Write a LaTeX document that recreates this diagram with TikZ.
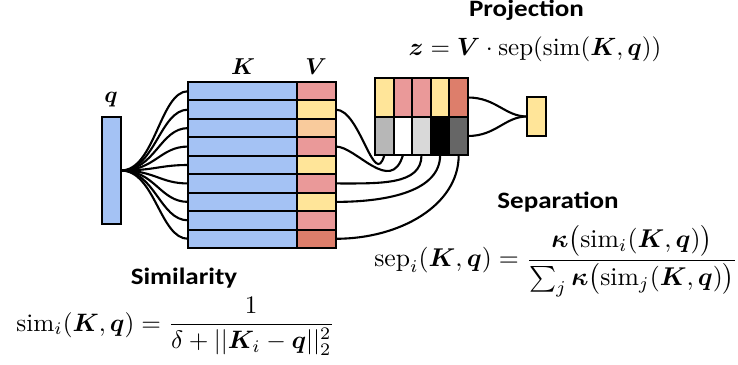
\documentclass[tikz,border=0pt]{standalone}
\usepackage{amsmath}
\usepackage{bm}
\usepackage{graphicx}
\usepackage{fontspec}
\newfontfamily\headfont{Carlito}

\definecolor{kblue}{HTML}{A4C2F4}
\definecolor{vpink}{HTML}{EA9999}
\definecolor{vyellow}{HTML}{FFE599}
\definecolor{vpeach}{HTML}{F9CB9C}
\definecolor{vsalmon}{HTML}{DD7E6B}
\definecolor{gA}{HTML}{B7B7B7}
\definecolor{gC}{HTML}{D9D9D9}
\definecolor{gE}{HTML}{666666}

% wide bold heading text
\newcommand{\headtext}[1]{\scalebox{1.15}[1]{\headfont\bfseries\fontsize{23.5}{28}\selectfont #1}}

\tikzset{
  cell/.style={draw=black, line width=2.1pt, inner sep=0pt, outer sep=0pt},
  kcell/.style={cell, fill=kblue, minimum width=109pt, minimum height=18.44pt},
  vcell/.style={cell, minimum width=39pt, minimum height=18.44pt},
  pcell/.style={cell, minimum width=18.6pt, minimum height=38.5pt},
  wire/.style={line width=2.1pt, black},
  heading/.style={inner sep=0pt},
  formula/.style={inner sep=0pt},
  letter/.style={inner sep=0pt}
}

\begin{document}
\begin{tikzpicture}[x=1pt, y=-1pt]
\useasboundingbox (0,0) rectangle (738,364);

% query vector
\node[cell, fill=kblue, minimum width=19pt, minimum height=107pt] (q) at (111.5,170.5) {};
\node[letter] (qlab) at (111,100) {\scalebox{2.3}{$\bm{q}$}};

% key / value memory rows
\foreach \i/\c in {1/vpink,2/vyellow,3/vpeach,4/vpink,5/vyellow,6/vpink,7/vyellow,8/vpink,9/vsalmon}{
  \node[kcell] (k\i) at (242.5, {82+18.444*(\i-0.5)}) {};
  \node[vcell, fill=\c] (v\i) at (316.5, {82+18.444*(\i-0.5)}) {};
}
\node[letter] (klab) at (243,67) {\scalebox{2.3}{$\bm{K}$}};
\node[letter] (vlab) at (316,67) {\scalebox{2.3}{$\bm{V}$}};

% fan-out from the query to every key row
\foreach \i in {1,...,9}{
  \draw[wire] (q.east) .. controls +(34,0) and +(-28,0) .. (k\i.west);
}

% projection block: selected values over their weights
\foreach \j/\c/\g in {1/vyellow/gA,2/vpink/white,3/vpink/gC,4/vyellow/black,5/vsalmon/gE}{
  \node[pcell, fill=\c] (p\j) at ({375+18.6*(\j-0.5)}, 97.5) {};
  \node[pcell, fill=\g] (s\j) at ({375+18.6*(\j-0.5)}, 136) {};
}

% values routed into the weight cells
\draw[wire] (v2.east) .. controls +(24,0) and +(-10,35) .. (s1.south);
\draw[wire] (v4.east) .. controls +(20,0) and +(-12,40) .. (s2.south);
\draw[wire] (v6.east) .. controls +(44,0) and +(0,30) .. (s3.south);
\draw[wire] (v7.east) .. controls +(54,0) and +(0,35) .. (s4.south);
\draw[wire] (v9.east) .. controls +(64,0) and +(0,50) .. (s5.south);

% output
\node[cell, fill=vyellow, minimum width=19pt, minimum height=39pt] (z) at (536.5,116.5) {};
\draw[wire] (p5.east) .. controls +(28,0) and +(-22,0) .. (z.west);
\draw[wire] (s5.east) .. controls +(28,0) and +(-22,0) .. (z.west);

% labels and equations
\node[heading, anchor=base] (hproj) at (526.5,16.5) {\headtext{Projection}};
\node[formula, anchor=base] (fproj) at (535,55)
  {\scalebox{2.5}{$\bm{z} = \bm{V}\cdot\mathrm{sep}(\mathrm{sim}(\bm{K},\bm{q}))$}};

\node[heading, anchor=base] (hsep) at (558,208) {\headtext{Separation}};
\node[formula, anchor=base] (fsep) at (556,266.5)
  {\scalebox{2.57}{$\displaystyle \mathrm{sep}_i(\bm{K},\bm{q}) = \frac{\bm{\kappa}\bigl(\mathrm{sim}_i(\bm{K},\bm{q})\bigr)}{\sum_j \bm{\kappa}\bigl(\mathrm{sim}_j(\bm{K},\bm{q})\bigr)}$}};

\node[heading, anchor=base] (hsim) at (184,284) {\headtext{Similarity}};
\node[formula, anchor=base] (fsim) at (175.5,331)
  {\scalebox{2.52}{$\displaystyle \mathrm{sim}_i(\bm{K},\bm{q}) = \frac{1}{\delta + ||\bm{K}_i - \bm{q}||_2^2}$}};
\end{tikzpicture}
\end{document}
